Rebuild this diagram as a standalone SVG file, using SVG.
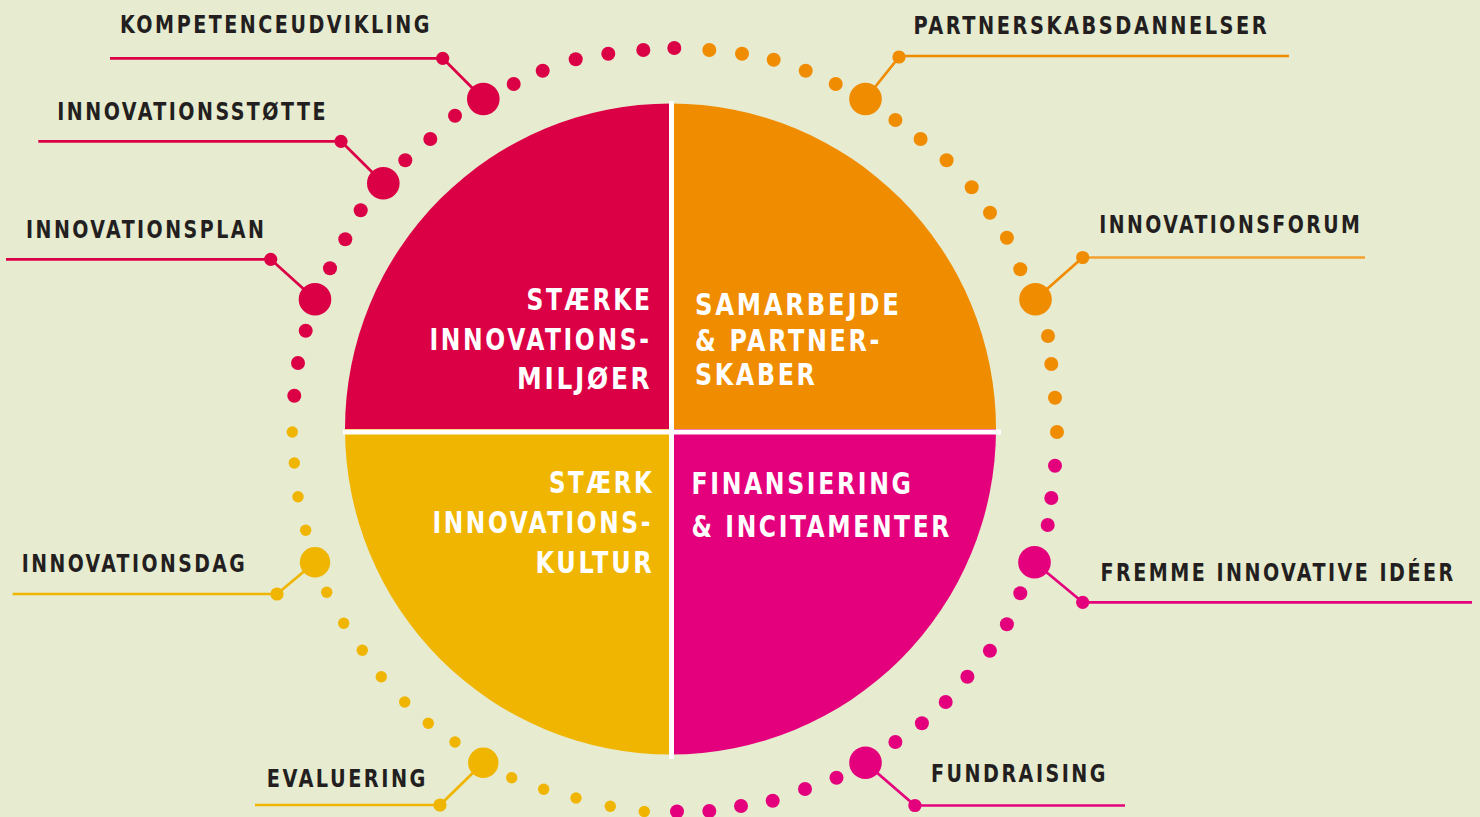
<svg xmlns="http://www.w3.org/2000/svg" width="1480" height="817" viewBox="0 0 1480 817">
<style>
.q{font-family:"DejaVu Sans Condensed","DejaVu Sans",sans-serif;font-weight:bold;font-size:30px;fill:#ffffff;letter-spacing:3px}
.l{font-family:"DejaVu Sans Condensed","DejaVu Sans",sans-serif;font-weight:bold;font-size:25.5px;fill:#231f20;letter-spacing:3px}
.red{fill:#db0045}.ora{fill:#f08c00}.yel{fill:#f0b500}.mag{fill:#e4007c}
.cr{stroke:#db0045}.co{stroke:#f08c00}.cy{stroke:#f0b500}.cm{stroke:#e4007c}
.cn line{stroke-width:2.7;fill:none}
</style>
<rect width="1480" height="817" fill="#e7ebcf"/>

<g id="ring">
<g class="red">
<circle cx="674.3" cy="48" r="7"/><circle cx="643.3" cy="50" r="7"/><circle cx="608.3" cy="53.7" r="7"/><circle cx="575.7" cy="59.3" r="7"/><circle cx="542.7" cy="70.7" r="7"/><circle cx="513.7" cy="84" r="7"/><circle cx="483.3" cy="99" r="16.3"/><circle cx="455" cy="115.7" r="7"/><circle cx="430.3" cy="139" r="7"/><circle cx="405.3" cy="160.3" r="7"/><circle cx="383.3" cy="183.3" r="16.3"/><circle cx="360.7" cy="210.3" r="7"/><circle cx="345.3" cy="239.3" r="7"/><circle cx="330" cy="268.3" r="7"/><circle cx="315" cy="299.3" r="16.3"/><circle cx="305.7" cy="330.7" r="7"/><circle cx="298" cy="363" r="7"/><circle cx="294.3" cy="395.7" r="7"/>
</g>
<g class="yel">
<circle cx="292.3" cy="432" r="5.7"/><circle cx="294.3" cy="463" r="5.7"/><circle cx="298" cy="496.7" r="5.7"/><circle cx="305.7" cy="530.3" r="5.7"/><circle cx="315" cy="562.3" r="15.2"/><circle cx="326.7" cy="592.3" r="5.7"/><circle cx="343.7" cy="623.3" r="5.7"/><circle cx="362.3" cy="650.3" r="5.7"/><circle cx="381.3" cy="676.7" r="5.7"/><circle cx="404.7" cy="702" r="5.7"/><circle cx="428.3" cy="723.3" r="5.7"/><circle cx="455" cy="742" r="5.7"/><circle cx="483.3" cy="762.7" r="15.2"/><circle cx="511.7" cy="777.7" r="5.7"/><circle cx="543.7" cy="789.3" r="5.7"/><circle cx="576" cy="798" r="5.7"/><circle cx="610.3" cy="806.3" r="5.7"/><circle cx="644.3" cy="811.5" r="5.7"/>
</g>
<g class="mag">
<circle cx="677" cy="811.5" r="7"/><circle cx="709.3" cy="811" r="7"/><circle cx="741" cy="806" r="7"/><circle cx="772.7" cy="800.7" r="7"/><circle cx="805" cy="789" r="7"/><circle cx="836.5" cy="777.7" r="7"/><circle cx="865.5" cy="762.7" r="16.3"/><circle cx="895.4" cy="742" r="7"/><circle cx="921.9" cy="723.3" r="7"/><circle cx="945.7" cy="702" r="7"/><circle cx="967.4" cy="676.7" r="7"/><circle cx="989.9" cy="650.7" r="7"/><circle cx="1006.9" cy="624.3" r="7"/><circle cx="1020.3" cy="593.3" r="7"/><circle cx="1034.5" cy="562.3" r="16.3"/><circle cx="1047.7" cy="525" r="7"/><circle cx="1051.3" cy="498" r="7"/><circle cx="1055" cy="465.7" r="7"/>
</g>
<g class="ora">
<circle cx="709.3" cy="50" r="7"/><circle cx="742" cy="53.7" r="7"/><circle cx="773.7" cy="59.7" r="7"/><circle cx="805.7" cy="70.7" r="7"/><circle cx="835.7" cy="84" r="7"/><circle cx="865.5" cy="99" r="16.3"/><circle cx="895.4" cy="120" r="7"/><circle cx="920.6" cy="139" r="7"/><circle cx="946.6" cy="160.3" r="7"/><circle cx="971.7" cy="187.3" r="7"/><circle cx="990" cy="212.7" r="7"/><circle cx="1006.9" cy="237.7" r="7"/><circle cx="1020.3" cy="269.3" r="7"/><circle cx="1035.5" cy="299.3" r="16.3"/><circle cx="1048" cy="336" r="7"/><circle cx="1051.3" cy="364" r="7"/><circle cx="1055" cy="397.7" r="7"/><circle cx="1057" cy="432" r="7"/>
</g>
</g>

<g id="connectors" class="cn">
<g class="cr">
<line x1="110" y1="58.3" x2="442.7" y2="58.3"/><line x1="442.7" y1="58.3" x2="483.3" y2="99"/>
<line x1="38.3" y1="141.3" x2="341" y2="141.3"/><line x1="341" y1="141.3" x2="383.3" y2="183.3"/>
<line x1="6" y1="259.3" x2="270.7" y2="259.3"/><line x1="270.7" y1="259.3" x2="315" y2="299.3"/>
</g>
<g class="red"><circle cx="442.7" cy="58.3" r="6.6"/><circle cx="341" cy="141.3" r="6.6"/><circle cx="270.7" cy="259.3" r="6.6"/></g>
<g class="cy">
<line x1="12.7" y1="594" x2="277" y2="594"/><line x1="277" y1="594" x2="315" y2="562.3"/>
<line x1="255" y1="805" x2="440" y2="805"/><line x1="440" y1="805" x2="483.3" y2="762.7"/>
</g>
<g class="yel"><circle cx="277" cy="594" r="6.6"/><circle cx="440" cy="805" r="6.6"/></g>
<g class="co">
<line x1="899" y1="56" x2="1289" y2="56"/><line x1="899" y1="57" x2="865.5" y2="99"/>
<line x1="1082.7" y1="257.5" x2="1365" y2="257.5" style="stroke:#f3a030"/><line x1="1082.7" y1="257.5" x2="1035.5" y2="299.3"/>
</g>
<g class="ora"><circle cx="899" cy="57" r="6.6"/><circle cx="1082.7" cy="257.5" r="6.6"/></g>
<g class="cm">
<line x1="1082.7" y1="602.3" x2="1472" y2="602.3"/><line x1="1082.7" y1="602.3" x2="1034.5" y2="562.3"/>
<line x1="914.9" y1="805.5" x2="1125" y2="805.5"/><line x1="914.9" y1="805.5" x2="865.5" y2="762.7"/>
</g>
<g class="mag"><circle cx="1082.7" cy="602.3" r="6.6"/><circle cx="914.9" cy="805.5" r="6.6"/></g>
</g>

<g id="q-miljoer">
<path class="red" d="M670.5 429 L345 429 A325.5 325.5 0 0 1 670.5 103.5 Z"/>
<text class="q" x="526.5" y="310" textLength="126" lengthAdjust="spacingAndGlyphs">STÆRKE</text>
<text class="q" x="429.5" y="350" textLength="222" lengthAdjust="spacingAndGlyphs">INNOVATIONS-</text>
<text class="q" x="517" y="389" textLength="135.5" lengthAdjust="spacingAndGlyphs">MILJØER</text>
</g>
<g id="q-samarbejde">
<path class="ora" d="M670.5 429 L670.5 103.5 A325.5 325.5 0 0 1 996 429 Z"/>
<text class="q" x="695" y="315" textLength="206.5" lengthAdjust="spacingAndGlyphs">SAMARBEJDE</text>
<text class="q" x="695" y="350.5" textLength="187" lengthAdjust="spacingAndGlyphs">&amp; PARTNER-</text>
<text class="q" x="695" y="385" textLength="122.5" lengthAdjust="spacingAndGlyphs">SKABER</text>
</g>
<g id="q-kultur">
<path class="yel" d="M670.5 429 L670.5 754.5 A325.5 325.5 0 0 1 345 429 Z"/>
<text class="q" x="549" y="492.5" textLength="105.5" lengthAdjust="spacingAndGlyphs">STÆRK</text>
<text class="q" x="432.5" y="533" textLength="220.5" lengthAdjust="spacingAndGlyphs">INNOVATIONS-</text>
<text class="q" x="535.5" y="573" textLength="119" lengthAdjust="spacingAndGlyphs">KULTUR</text>
</g>
<g id="q-finansiering">
<path class="mag" d="M670.5 429 L996 429 A325.5 325.5 0 0 1 670.5 754.5 Z"/>
<text class="q" x="691.5" y="494" textLength="222" lengthAdjust="spacingAndGlyphs">FINANSIERING</text>
<text class="q" x="691.5" y="536.5" textLength="260.5" lengthAdjust="spacingAndGlyphs">&amp; INCITAMENTER</text>
</g>
<g id="dividers" fill="#ffffff">
<rect x="669" y="101" width="5" height="658"/>
<rect x="343" y="429.5" width="658" height="5"/>
</g>

<g id="lbl-kompetenceudvikling"><text class="l" x="120" y="33.3" textLength="312" lengthAdjust="spacingAndGlyphs">KOMPETENCEUDVIKLING</text></g>
<g id="lbl-innovationsstotte"><text class="l" x="57.3" y="120" textLength="270.7" lengthAdjust="spacingAndGlyphs">INNOVATIONSSTØTTE</text></g>
<g id="lbl-innovationsplan"><text class="l" x="26" y="238.3" textLength="240.3" lengthAdjust="spacingAndGlyphs">INNOVATIONSPLAN</text></g>
<g id="lbl-innovationsdag"><text class="l" x="21.7" y="572.3" textLength="225.6" lengthAdjust="spacingAndGlyphs">INNOVATIONSDAG</text></g>
<g id="lbl-evaluering"><text class="l" x="266.7" y="786.7" textLength="161.3" lengthAdjust="spacingAndGlyphs">EVALUERING</text></g>
<g id="lbl-partnerskabsdannelser"><text class="l" x="913.6" y="34.3" textLength="355.6" lengthAdjust="spacingAndGlyphs">PARTNERSKABSDANNELSER</text></g>
<g id="lbl-innovationsforum"><text class="l" x="1099.2" y="233.3" textLength="263.2" lengthAdjust="spacingAndGlyphs">INNOVATIONSFORUM</text></g>
<g id="lbl-fremme"><text class="l" transform="matrix(0.8 0 0 1 1100.5 581)" x="0" y="0" textLength="444" lengthAdjust="spacingAndGlyphs">FREMME INNOVATIVE IDÉER</text></g>
<g id="lbl-fundraising"><text class="l" x="931" y="782.3" textLength="177" lengthAdjust="spacingAndGlyphs">FUNDRAISING</text></g>
</svg>
